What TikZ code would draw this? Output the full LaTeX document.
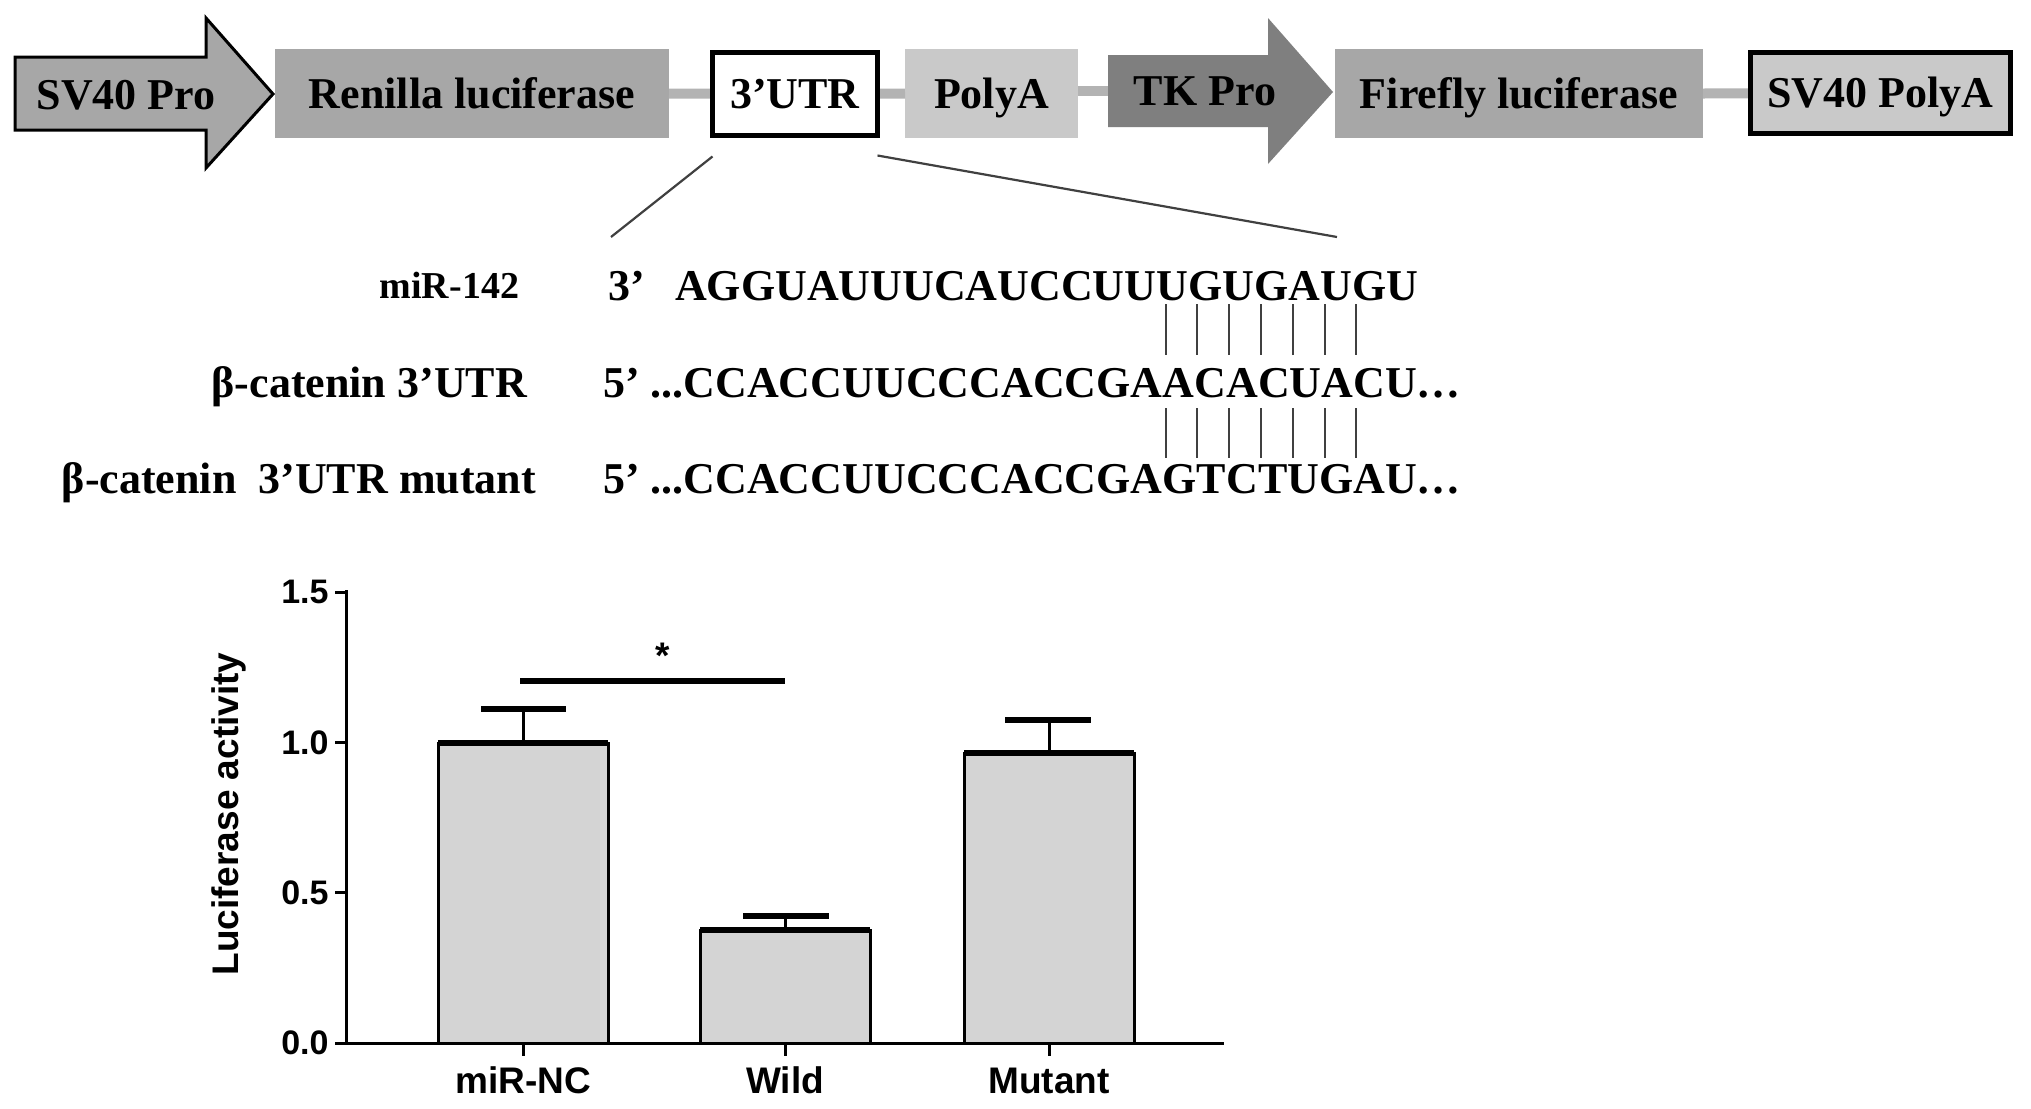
\documentclass[tikz,border=0pt]{standalone}
\usepackage{fontspec}
\setmainfont{Liberation Serif}
\newfontfamily\chartsans{Liberation Sans}
\newcommand\topfnt{\fontsize{22}{26}\selectfont\bfseries}
\newcommand\seqfnt{\fontsize{22}{26}\selectfont\bfseries}
\newcommand\mirfnt{\fontsize{19}{23}\selectfont\bfseries}
\newcommand\axfnt{\chartsans\fontsize{17}{20}\selectfont\bfseries}
\newcommand\labfnt{\chartsans\fontsize{18.5}{22}\selectfont\bfseries}
\definecolor{boxgray}{HTML}{A7A7A7}
\definecolor{lightbox}{HTML}{C9C9C9}
\definecolor{tkgray}{HTML}{7F7F7F}
\definecolor{linkgray}{HTML}{B3B3B3}
\definecolor{pairgray}{HTML}{404040}
\definecolor{barfill}{HTML}{D4D4D4}
\begin{document}
\begin{tikzpicture}[x=0.5pt,y=-0.5pt,
  gene/.style={rectangle, inner sep=0pt, outer sep=0pt, font=\topfnt, text height=14.6pt, text depth=0pt},
  genetxt/.style={inner sep=0pt, outer sep=0pt, font=\topfnt, text height=14.6pt, text depth=0pt},
  link/.style={line width=5pt, draw=linkgray},
  zoomline/.style={line width=1.1pt, draw=pairgray},
  seqch/.style={inner sep=0pt, outer sep=0pt, minimum width=0pt, minimum height=0pt, anchor=base west, font=\seqfnt},
  pair/.style={line width=1pt, draw=pairgray},
  rowlbl/.style={inner sep=0pt, outer sep=0pt, anchor=base east, font=\topfnt},
  axisline/.style={line width=1.5pt, draw=black},
  bar/.style={line width=1.5pt, draw=black, fill=barfill},
  thick top/.style={line width=2.6pt, draw=black},
  whisker/.style={line width=1.5pt, draw=black},
  ticklbl/.style={inner sep=0pt, anchor=east, font=\axfnt},
  catlbl/.style={inner sep=0pt, anchor=base, font=\labfnt}
]
\useasboundingbox (0,0) rectangle (2031,1109);
\fill[white] (0,0) rectangle (2031,1109);

% ---------- construct ----------
\node[gene, fill=boxgray, minimum width=197pt, minimum height=44.5pt] (ren) at (472,93.5) {Renilla luciferase};
\node[gene, fill=lightbox, minimum width=86.5pt, minimum height=44.5pt] (pa) at (991.5,93.5) {PolyA};
\node[gene, fill=boxgray, minimum width=184pt, minimum height=44.5pt] (ff) at (1519,93.5) {Firefly luciferase};
\coordinate (tkL) at (1109,91);

% connectors
\draw[link] (ren.east) -- (795,94);
\draw[link] (795,94) -- (pa.west);
\draw[link] (pa.east |- tkL) -- (tkL);
\draw[link] (ff.east) -- (1880,93);

% boxes with borders (drawn over connector ends)
\node[gene, draw=black, line width=2.5pt, fill=white, minimum width=82.5pt, minimum height=41.5pt] (utr) at (795,94) {3’UTR};
\node[gene, draw=black, line width=2.5pt, fill=lightbox, minimum width=130pt, minimum height=40.5pt] (svpa) at (1880.5,93) {SV40 PolyA};

% promoter arrows
\filldraw[fill=boxgray, draw=black, line width=1.5pt, line join=miter]
  (15,57) -- (206,57) -- (206,18) -- (273,94) -- (206,168) -- (206,130) -- (15,130) -- cycle;
\fill[tkgray] (1108,55) -- (1268,55) -- (1268,18) -- (1333,92) -- (1268,164) -- (1268,127) -- (1108,127) -- cycle;
\node[genetxt] (svpro) at (126,95) {SV40 Pro};
\node[genetxt] (tkpro) at (1205,91) {TK Pro};

% zoom lines
\coordinate (zl) at (611,237);
\coordinate (zr) at (1337,237);
\draw[zoomline] ([yshift=-10.5pt]utr.south west) -- (zl);
\draw[zoomline] ([yshift=-10pt]utr.south east) -- (zr);

% ---------- sequences ----------
\node[rowlbl, font=\mirfnt] (lmir) at (519,298) {miR-142};
\node[rowlbl] (lwt) at (527,397) {β-catenin 3’UTR};
\node[rowlbl] (lmut) at (536,493) {β-catenin\ \ 3’UTR mutant};

\node[seqch] (mirend) at (608,300) {3’};
\node[seqch] (m0) at (675,300) {};
\foreach \ch [count=\i, remember=\i as \j (initially 0)] in {A,G,G,U,A,U,U,U,C,A,U,C,C,U,U,U,G,U,G,A,U,G,U}
  \node[seqch] (m\i) at (m\j.base east) {\ch};

\node[seqch] (w0) at (603,397) {5’ ...};
\foreach \ch [count=\i, remember=\i as \j (initially 0)] in {C,C,A,C,C,U,U,C,C,C,A,C,C,G,A,A,C,A,C,U,A,C,U}
  \node[seqch] (w\i) at (w\j.base east) {\ch};
\node[seqch] (wend) at (w23.base east) {…};

\node[seqch] (u0) at (603,493) {5’ ...};
\foreach \ch [count=\i, remember=\i as \j (initially 0)] in {C,C,A,C,C,U,U,C,C,C,A,C,C,G,A,G,T,C,T,U,G,A,U}
  \node[seqch] (u\i) at (u\j.base east) {\ch};
\node[seqch] (uend) at (u23.base east) {…};

\foreach \i in {16,...,22}{
  \draw[pair] (w\i.north) ++(-13,-13) -- ++(0,-51);
  \draw[pair] (w\i.south) ++(-13,11) -- ++(0,50);
}

% ---------- bar chart ----------
\filldraw[bar] (438,1043) rectangle (608,743);
\filldraw[bar] (700,1043) rectangle (870,930);
\filldraw[bar] (964,1043) rectangle (1134,753);
\draw[thick top] (438,743) -- (608,743);
\draw[thick top] (700,930) -- (870,930);
\draw[thick top] (964,753) -- (1134,753);
\draw[whisker] (523,743) -- (523,709);
\draw[thick top] (481,709) -- (566,709);
\draw[whisker] (785,930) -- (785,916);
\draw[thick top] (743,916) -- (829,916);
\draw[whisker] (1049,753) -- (1049,720);
\draw[thick top] (1005,720) -- (1091,720);
\draw[axisline] (346,590) -- (346,1043) -- (1224,1043);
\foreach \v/\t in {0/0.0,0.5/0.5,1/1.0,1.5/1.5}{
  \draw[axisline] (335,{1043-300.5*\v}) -- (346,{1043-300.5*\v});
  \node[ticklbl] at (329,{1043-300.5*\v}) {\t};
}
\foreach \x/\t in {523/miR-NC,785/Wild,1049/Mutant}{
  \draw[axisline] (\x,1043) -- (\x,1056);
  \node[catlbl] at (\x,1093) {\t};
}
\node[rotate=90, inner sep=0pt, font=\labfnt] (ylab) at (229,814) {Luciferase activity};
\draw[thick top] (520,681) -- (785,681);
\node[inner sep=0pt, font=\labfnt] (star) at (663,656) {*};
\end{tikzpicture}
\end{document}
